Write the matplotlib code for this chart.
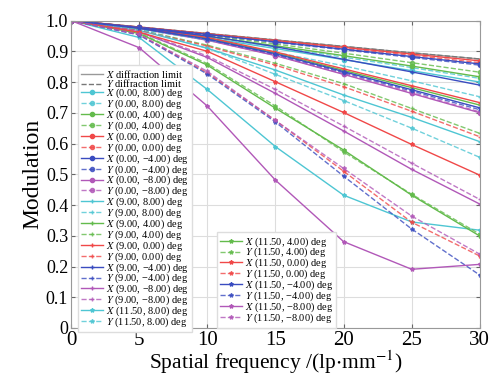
import matplotlib
matplotlib.use('Agg')
import matplotlib.pyplot as plt

plt.rcParams['font.family'] = ['Liberation Serif', 'DejaVu Serif']
plt.rcParams['mathtext.fontset'] = 'stix'

freq = [0, 5, 10, 15, 20, 25, 30]

# diffraction limit
diff_x = [1, 0.979, 0.958, 0.937, 0.916, 0.895, 0.875]
diff_y = [1, 0.979, 0.958, 0.937, 0.916, 0.895, 0.875]

# field (0.00, y)
x_0_8 = [1, 0.974, 0.944, 0.909, 0.873, 0.837, 0.800]
y_0_8 = [1, 0.975, 0.947, 0.915, 0.881, 0.847, 0.812]
x_0_4 = [1, 0.976, 0.949, 0.918, 0.886, 0.852, 0.817]
y_0_4 = [1, 0.977, 0.952, 0.924, 0.894, 0.863, 0.832]
x_0_0 = [1, 0.979, 0.957, 0.935, 0.913, 0.891, 0.869]
y_0_0 = [1, 0.978, 0.956, 0.933, 0.910, 0.887, 0.863]
x_0_m4 = [1, 0.978, 0.955, 0.931, 0.907, 0.883, 0.859]
y_0_m4 = [1, 0.978, 0.954, 0.929, 0.905, 0.880, 0.855]
x_0_m8 = [1, 0.974, 0.936, 0.886, 0.825, 0.763, 0.700]
y_0_m8 = [1, 0.974, 0.937, 0.887, 0.827, 0.766, 0.703]

# field (9.00, y)
x_9_8 = [1, 0.968, 0.910, 0.839, 0.758, 0.685, 0.606]
y_9_8 = [1, 0.972, 0.937, 0.897, 0.853, 0.804, 0.752]
x_9_4 = [1, 0.976, 0.943, 0.895, 0.838, 0.782, 0.725]
y_9_4 = [1, 0.970, 0.920, 0.861, 0.795, 0.714, 0.633]
x_9_0 = [1, 0.977, 0.945, 0.898, 0.843, 0.788, 0.733]
y_9_0 = [1, 0.969, 0.917, 0.855, 0.785, 0.705, 0.622]
x_9_m4 = [1, 0.977, 0.950, 0.915, 0.874, 0.833, 0.790]
y_9_m4 = [1, 0.975, 0.939, 0.890, 0.831, 0.771, 0.710]
x_9_m8 = [1, 0.963, 0.880, 0.763, 0.641, 0.516, 0.403]
y_9_m8 = [1, 0.965, 0.885, 0.776, 0.657, 0.536, 0.418]

# field (11.50, y)
x_11_8 = [1, 0.945, 0.776, 0.590, 0.432, 0.345, 0.318]
y_11_8 = [1, 0.972, 0.910, 0.825, 0.740, 0.650, 0.555]
x_11_4 = [1, 0.958, 0.855, 0.715, 0.579, 0.432, 0.299]
y_11_4 = [1, 0.960, 0.860, 0.722, 0.573, 0.435, 0.305]
x_11_0 = [1, 0.962, 0.900, 0.801, 0.701, 0.597, 0.497]
y_11_0 = [1, 0.955, 0.830, 0.675, 0.510, 0.344, 0.234]
x_11_m4 = [1, 0.975, 0.940, 0.892, 0.834, 0.775, 0.716]
y_11_m4 = [1, 0.953, 0.826, 0.670, 0.494, 0.322, 0.172]
x_11_m8 = [1, 0.912, 0.722, 0.481, 0.281, 0.191, 0.207]
y_11_m8 = [1, 0.955, 0.835, 0.675, 0.519, 0.364, 0.240]

fields = ['8.00', '4.00', '0.00', '\u22124.00', '\u22128.00']
colors = ['#4ec6d3', '#63bb4c', '#f04848', '#3a4cc0', '#b158b8']

series = [
    ('0.00', 'o', [x_0_8, x_0_4, x_0_0, x_0_m4, x_0_m8], [y_0_8, y_0_4, y_0_0, y_0_m4, y_0_m8]),
    ('9.00', '+', [x_9_8, x_9_4, x_9_0, x_9_m4, x_9_m8], [y_9_8, y_9_4, y_9_0, y_9_m4, y_9_m8]),
    ('11.50', '*', [x_11_8, x_11_4, x_11_0, x_11_m4, x_11_m8], [y_11_8, y_11_4, y_11_0, y_11_m4, y_11_m8]),
]

fig = plt.figure(figsize=(4.92, 3.74), dpi=100)
ax = fig.add_axes([0.1443, 0.123, 0.831, 0.822])

handles = []
h, = ax.plot(freq, diff_x, color='#999999', lw=1.0, label='$X$ diffraction limit')
handles.append(h)
h, = ax.plot(freq, diff_y, color='#777777', lw=1.0, ls='--', label='$Y$ diffraction limit')
handles.append(h)

for fx, mk, xs, ys in series:
    for k in range(5):
        lab = '(%s, %s) deg' % (fx, fields[k])
        h, = ax.plot(freq, xs[k], color=colors[k], lw=1.0, marker=mk, ms=3,
                     label='$X$ ' + lab)
        handles.append(h)
        h, = ax.plot(freq, ys[k], color=colors[k], lw=1.0, ls='--', marker=mk, ms=3,
                     alpha=0.8, label='$Y$ ' + lab)
        handles.append(h)

ax.set_xlim(0, 30)
ax.set_ylim(0, 1.0)
ax.set_xticks(freq)
ax.set_yticks([0, 0.1, 0.2, 0.3, 0.4, 0.5, 0.6, 0.7, 0.8, 0.9, 1.0])
ax.set_yticklabels(['0', '0.1', '0.2', '0.3', '0.4', '0.5', '0.6', '0.7', '0.8', '0.9', '1.0'])
ax.tick_params(axis='x', labelsize=15, direction='in', top=True, length=3, color='#666666', pad=2)
ax.tick_params(axis='y', labelsize=13, direction='in', right=True, length=3, color='#666666', pad=2)
ax.grid(True, color='#dddddd', lw=0.8)
for s in ax.spines.values():
    s.set_color('#999999')

ax.set_xlabel('Spatial frequency /(lp$\\cdot$mm$^{-1}$)', fontsize=15.5, labelpad=-1)
ax.set_ylabel('Modulation', fontsize=17, labelpad=2)

leg_kw = dict(fontsize=7.5, labelspacing=-0.25, handlelength=2.1, handletextpad=0.3,
              borderpad=0.3, borderaxespad=0, fancybox=False, framealpha=1,
              edgecolor='#dddddd')
leg1 = ax.legend(handles=handles[:24], loc='upper left', bbox_to_anchor=(0.017, 0.856), **leg_kw)
ax.add_artist(leg1)
ax.legend(handles=handles[24:], loc='lower left', bbox_to_anchor=(0.357, 0.0), **leg_kw)

fig.savefig('out.png', dpi=100)
